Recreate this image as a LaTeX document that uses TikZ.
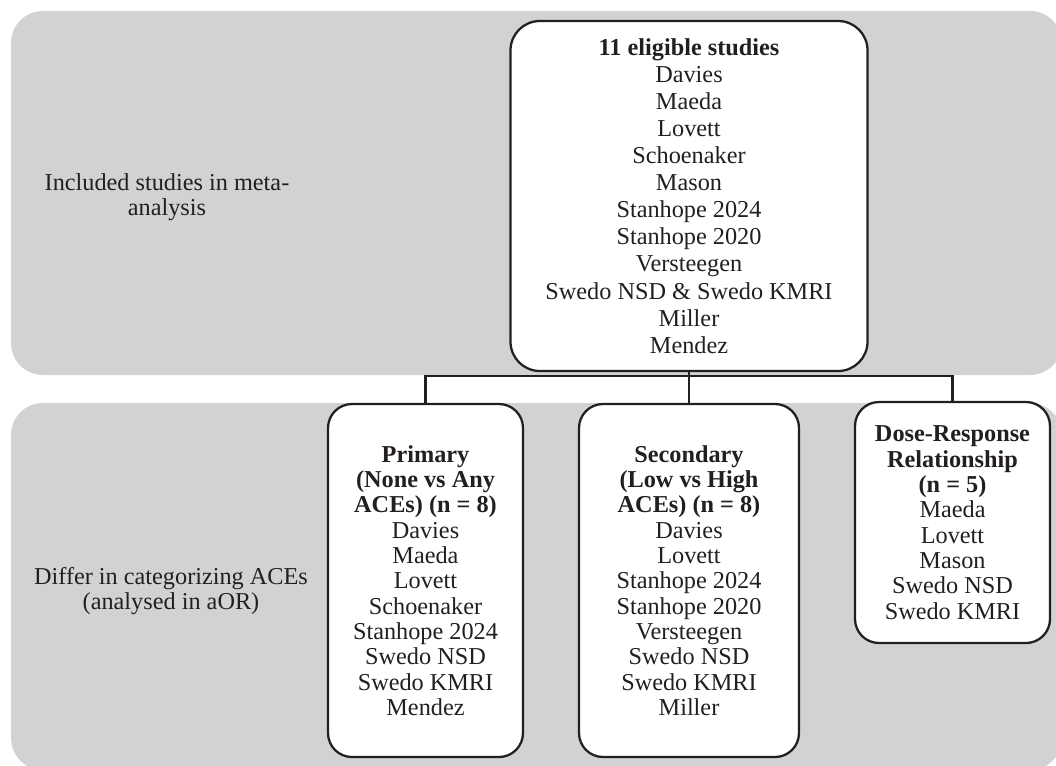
\documentclass[tikz,border=0pt]{standalone}
\usepackage{fontspec}
\setmainfont{Liberation Serif}
\definecolor{bandgray}{RGB}{209,210,212}
\definecolor{ink}{RGB}{35,31,32}
\begin{document}
\begin{tikzpicture}[x=0.75pt,y=-0.75pt,
  bandfill/.style={fill=bandgray, rounded corners=24pt},
  studybox/.style={draw=ink, line width=1.7pt, fill=white, rounded corners=18pt,
    align=center, inner sep=0pt, text=ink,
    font=\fontsize{18.2}{19}\selectfont},
  link/.style={draw=ink, line width=1.7pt},
  sidelabel/.style={align=center, text=ink, inner sep=0pt,
    font=\fontsize{18.2}{19.2}\selectfont}]
\useasboundingbox (0,0) rectangle (1056,765);
\begin{scope}
  \clip (0,0) rectangle (1056,765);
  \path[bandfill] (11,11) rectangle (1062,375);
  \path[bandfill] (11,403) rectangle (1062,770);
\end{scope}

\node[sidelabel] (lab1) at (167,197) {Included studies in meta-\\analysis};
\node[sidelabel] (lab2) at (171,591) {Differ in categorizing ACEs\\(analysed in aOR)};

\node[studybox, rounded corners=22pt, minimum width=267.75pt, minimum height=262.5pt,
  font=\fontsize{18.2}{20.3}\selectfont] (top) at (689,196)
  {\textbf{11 eligible studies}\\Davies\\Maeda\\Lovett\\Schoenaker\\Mason\\Stanhope 2024\\Stanhope 2020\\Versteegen\\Swedo NSD \& Swedo KMRI\\Miller\\Mendez};

\node[studybox, minimum width=146.25pt, minimum height=264.75pt] (prim) at (425.5,580.5)
  {\textbf{Primary}\\\textbf{(None vs Any}\\\textbf{ACEs) (n = 8)}\\Davies\\Maeda\\Lovett\\Schoenaker\\Stanhope 2024\\Swedo NSD\\Swedo KMRI\\Mendez};

\node[studybox, minimum width=165pt, minimum height=264.75pt] (sec) at (689,580.5)
  {\textbf{Secondary}\\\textbf{(Low vs High}\\\textbf{ACEs) (n = 8)}\\Davies\\Lovett\\Stanhope 2024\\Stanhope 2020\\Versteegen\\Swedo NSD\\Swedo KMRI\\Miller};

\node[studybox, minimum width=146.25pt, minimum height=180.75pt] (dose) at (952.5,522.5)
  {\textbf{Dose-Response}\\\textbf{Relationship}\\\textbf{(n = 5)}\\Maeda\\Lovett\\Mason\\Swedo NSD\\Swedo KMRI};

\coordinate (j) at (689,376);
\draw[link] (top.south) -- (j);
\draw[link] (prim.north) |- (j) -| (dose.north);
\draw[link] (j) -- (sec.north);
\end{tikzpicture}
\end{document}
